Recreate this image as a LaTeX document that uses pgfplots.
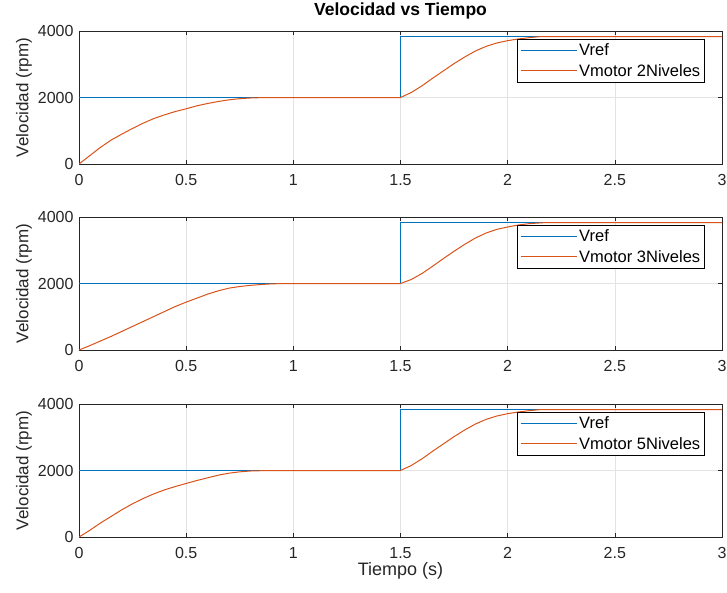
\documentclass[border=0pt]{standalone}
\usepackage{pgfplots}
\pgfplotsset{compat=1.18}
\usepackage{fontspec}
\setmainfont{Liberation Sans}
\definecolor{mblue}{rgb}{0,0.447,0.741}
\definecolor{morange}{rgb}{0.85,0.325,0.098}
\definecolor{axgray}{rgb}{0.15,0.15,0.15}
\pgfplotsset{
  myax/.style={
    scale only axis, width=643pt, height=133pt,
    xmin=0, xmax=3, ymin=0, ymax=4000,
    xtick={0,0.5,1,1.5,2,2.5,3},
    xticklabels={0,0.5,1,1.5,2,2.5,3},
    ytick={0,2000,4000},
    yticklabels={0,2000,4000},
    grid=major, grid style={gray!22, line width=0.6pt},
    tick align=inside, tick pos=both, major tick length=4pt,
    axis line style={axgray, line width=0.7pt},
    every tick/.style={axgray, line width=0.6pt},
    tick label style={font=\fontsize{16}{18}\selectfont, text=axgray},
    xticklabel style={yshift=-7pt},
    yticklabel style={xshift=-2pt},
    ylabel={Velocidad (rpm)},
    ylabel style={at={(axis description cs:-0.0855,0.5)}, anchor=center, font=\fontsize{17}{19}\selectfont, text=axgray},
    legend style={at={(rel axis cs:0.9736,0.94)}, anchor=north east, draw=black, line width=0.6pt, fill=white,
      font=\fontsize{16.5}{18}\selectfont, inner sep=2.5pt, row sep=3pt, cells={anchor=west}},
    legend image code/.code={\draw[#1, line width=1pt] (0pt,0pt) -- (56pt,0pt);},
  }
}
\begin{document}
\begin{tikzpicture}[x=1pt,y=1pt]
\useasboundingbox (0,0) rectangle (727,-592);
% ---------- 2 niveles ----------
\begin{axis}[myax, at={(79pt,-31pt)}, anchor=north west,
  title={\textbf{Velocidad vs Tiempo}},
  title style={at={(axis description cs:0.5,1.075)}, anchor=base, font=\fontsize{17.5}{19}\selectfont\bfseries, text=black}]
\addplot[mblue, line width=1pt] coordinates {(0,2000) (1.5,2000) (1.5,3830) (3,3830)};
\addlegendentry{Vref}
\addplot[morange, line width=1pt] coordinates {
(0,0) (0.05,250) (0.1,500) (0.15,720) (0.2,900) (0.25,1070) (0.3,1230) (0.35,1370)
(0.4,1480) (0.45,1580) (0.5,1660) (0.55,1750) (0.6,1820) (0.65,1880) (0.7,1930)
(0.75,1965) (0.8,1985) (0.87,2000) (1.5,2000) (1.55,2150) (1.6,2350) (1.65,2580)
(1.7,2800) (1.75,3020) (1.8,3220) (1.85,3400) (1.9,3540) (1.95,3640) (2.0,3710)
(2.05,3760) (2.1,3800) (2.15,3830) (3,3830)};
\addlegendentry{Vmotor 2Niveles}
\end{axis}
% ---------- 3 niveles ----------
\begin{axis}[myax, at={(79pt,-217pt)}, anchor=north west]
\addplot[mblue, line width=1pt] coordinates {(0,2000) (1.5,2000) (1.5,3830) (3,3830)};
\addlegendentry{Vref}
\addplot[morange, line width=1pt] coordinates {
(0,0) (0.05,130) (0.1,270) (0.15,410) (0.2,560) (0.25,710) (0.3,860) (0.35,1010)
(0.4,1160) (0.45,1310) (0.5,1440) (0.55,1560) (0.6,1680) (0.65,1780) (0.7,1860)
(0.75,1910) (0.8,1945) (0.85,1970) (0.9,1990) (0.97,2000) (1.5,2000) (1.55,2120)
(1.6,2300) (1.65,2520) (1.7,2750) (1.75,2970) (1.8,3180) (1.85,3370) (1.9,3520)
(1.95,3630) (2.0,3700) (2.05,3760) (2.1,3800) (2.17,3830) (3,3830)};
\addlegendentry{Vmotor 3Niveles}
\end{axis}
% ---------- 5 niveles ----------
\begin{axis}[myax, at={(79pt,-404pt)}, anchor=north west,
  xlabel={Tiempo (s)},
  xlabel style={at={(axis description cs:0.5,-0.254)}, anchor=center, font=\fontsize{18}{20}\selectfont, text=axgray}]
\addplot[mblue, line width=1pt] coordinates {(0,2000) (1.5,2000) (1.5,3830) (3,3830)};
\addlegendentry{Vref}
\addplot[morange, line width=1pt] coordinates {
(0,0) (0.05,200) (0.1,420) (0.15,620) (0.2,820) (0.25,1000) (0.3,1160) (0.35,1300)
(0.4,1420) (0.45,1520) (0.5,1610) (0.55,1700) (0.6,1780) (0.65,1860) (0.7,1920)
(0.75,1960) (0.8,1985) (0.88,2000) (1.5,2000) (1.55,2150) (1.6,2350) (1.65,2580)
(1.7,2800) (1.75,3020) (1.8,3220) (1.85,3400) (1.9,3540) (1.95,3640) (2.0,3710)
(2.05,3760) (2.1,3800) (2.15,3830) (3,3830)};
\addlegendentry{Vmotor 5Niveles}
\end{axis}
\end{tikzpicture}
\end{document}
